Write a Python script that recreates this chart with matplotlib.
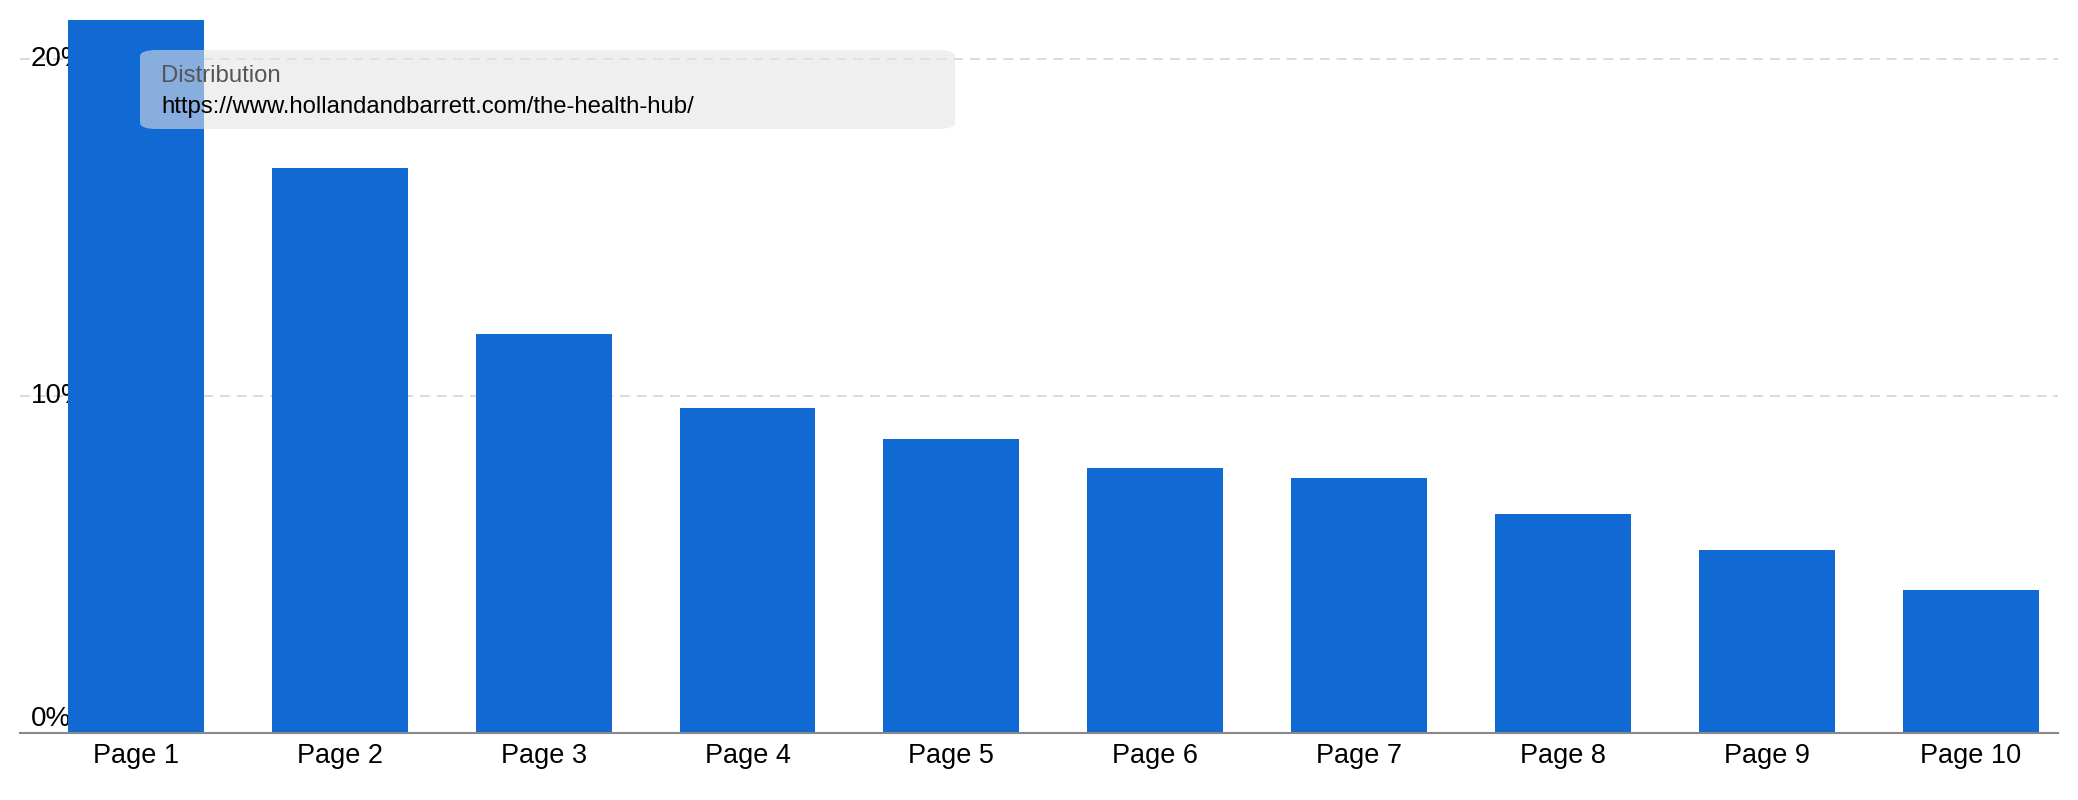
import numpy as np
import matplotlib.pyplot as plt
from matplotlib.patches import FancyBboxPatch

plt.rcParams['font.family'] = ['Liberation Sans', 'DejaVu Sans']
plt.rcParams['lines.scale_dashes'] = False

# data (percent of results per page)
pages = ['Page 1', 'Page 2', 'Page 3', 'Page 4', 'Page 5',
         'Page 6', 'Page 7', 'Page 8', 'Page 9', 'Page 10']
share = [22.5, 16.75, 11.84, 9.63, 8.73, 7.86, 7.55, 6.49, 5.43, 4.25]
y_ticks = [0, 10, 20]
y_labels = ['0%', '10%', '20%']
tip_title = 'Distribution'
tip_url = 'https://www.hollandandbarrett.com/the-health-hub/'

W, H = 2078, 800
fig = plt.figure(figsize=(W / 100, H / 100), dpi=100)
ax = fig.add_axes([20 / W, (H - 733) / H, 2038 / W, 713 / H])

x = np.arange(len(pages))
ax.bar(x, share, width=0.667, color='#116ad4', zorder=1)
ax.set_xlim(-0.569, 9.429)
ax.set_ylim(0, 21.15)

# dashed grid, not at zero
for t in y_ticks:
    if t > 0:
        ax.axhline(t, color='#dadada', lw=1.4, dashes=(7, 5), zorder=0)

# y labels sit inside the plot, under the bars
for t, lab in zip(y_ticks, y_labels):
    if t == 0:
        ax.annotate(lab, (0, t), xycoords=('axes fraction', 'data'),
                    xytext=(8, 0.5), textcoords='offset points',
                    ha='left', va='bottom', fontsize=20, zorder=0.5)
    else:
        ax.annotate(lab, (0, t), xycoords=('axes fraction', 'data'),
                    xytext=(8, 0), textcoords='offset points',
                    ha='left', va='center', fontsize=20, zorder=0.5)

ax.set_xticks(x)
ax.set_xticklabels(pages, fontsize=19.5)
ax.set_yticks([])
ax.tick_params(axis='x', length=0, pad=7)
for s in ['top', 'right', 'left']:
    ax.spines[s].set_visible(False)
ax.spines['bottom'].set_color('#888888')
ax.spines['bottom'].set_linewidth(1.5)

# tooltip box
box = FancyBboxPatch((140 / W, (H - 129) / H), 815 / W, 79 / H,
                     boxstyle='round,pad=0,rounding_size=0.008',
                     transform=fig.transFigure, facecolor=(0.894, 0.894, 0.894),
                     alpha=0.56, edgecolor='none', zorder=5)
fig.patches.append(box)
fig.text(161 / W, (H - 82) / H, tip_title, fontsize=17.2, color='#555555',
         ha='left', va='baseline', zorder=6)
fig.text(161 / W, (H - 113) / H, tip_url, fontsize=17.2, color='#000000',
         ha='left', va='baseline', zorder=6)

fig.savefig('out.png', dpi=100)
